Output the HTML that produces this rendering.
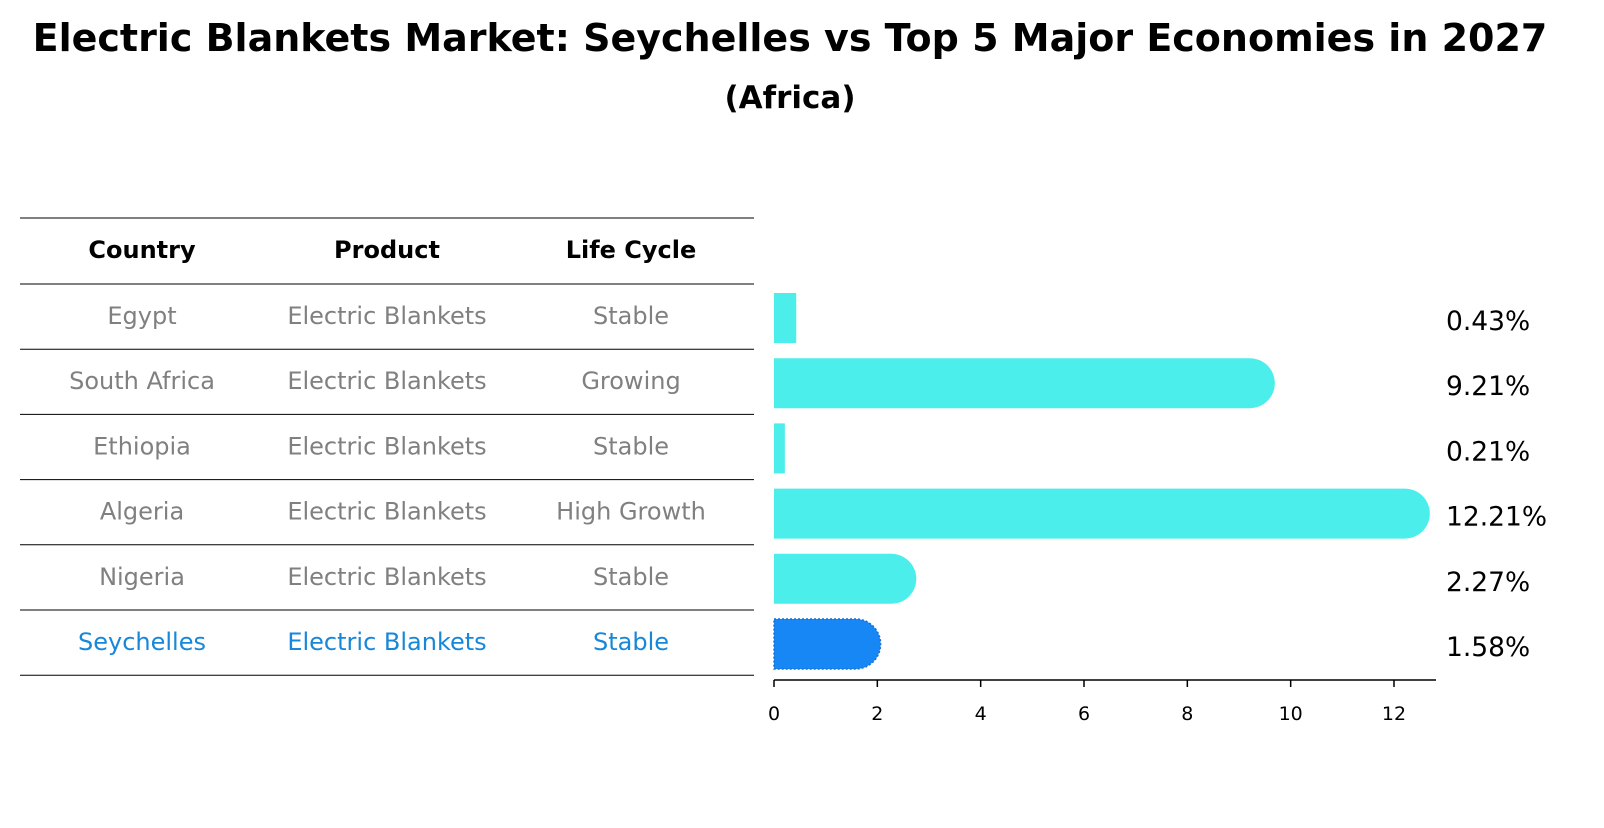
<!DOCTYPE html>
<html><head><meta charset="utf-8"><style>
body{margin:0;background:#fff;font-family:"Liberation Sans","DejaVu Sans",sans-serif;}
svg text{font-family:"DejaVu Sans","Liberation Sans",sans-serif;}
</style></head><body>
<svg id="chart" width="1604" height="823" viewBox="0 0 1604 823" xmlns="http://www.w3.org/2000/svg">
<text x="790" y="51" text-anchor="middle" font-size="38" font-weight="bold">Electric Blankets Market: Seychelles vs Top 5 Major Economies in 2027</text>
<text x="790" y="108" text-anchor="middle" font-size="31" font-weight="bold">(Africa)</text>
<g id="table"></g>
<g id="bars"></g>
</svg>
<script>
const countries=["Egypt","South Africa","Ethiopia","Algeria","Nigeria","Seychelles"];
const products=["Electric Blankets","Electric Blankets","Electric Blankets","Electric Blankets","Electric Blankets","Electric Blankets"];
const lifeCycles=["Stable","Growing","Stable","High Growth","Stable","Stable"];
const values=[0.43,9.21,0.21,12.21,2.27,1.58];
const tickLabels=[0,2,4,6,8,10,12];
const NS="http://www.w3.org/2000/svg";
function mk(tag,attrs,parent){const e=document.createElementNS(NS,tag);for(const k in attrs)e.setAttribute(k,attrs[k]);parent.appendChild(e);return e;}
const tbl=document.getElementById('table');
const bars=document.getElementById('bars');
const x0=774, unit=(1394-774)/12;
const xs=v=>x0+v*unit;
const rowTop=218, headH=66, rowH=65.2;
const colX=[142,387,631];
const hl=mk('line',{x1:20,x2:754,y1:rowTop,y2:rowTop,stroke:'#000','stroke-width':1},tbl);


["Country","Product","Life Cycle"].forEach((h,i)=>{
 const t=mk('text',{x:colX[i],y:rowTop+40,'text-anchor':'middle','font-size':24,'font-weight':'bold'},tbl);
 t.textContent=h;
 
 
});
countries.forEach((c,i)=>{
 const top=rowTop+headH+i*rowH;
 const ln=mk('line',{x1:20,x2:754,y1:top,y2:top,stroke:'#000','stroke-width':1},tbl);
 
 
 const col=c==="Seychelles"?'#1787d9':'#808080';
 [c,products[i],lifeCycles[i]].forEach((v,j)=>{
  const t=mk('text',{x:colX[j],y:top+40,'text-anchor':'middle','font-size':24,fill:col},tbl);
  t.textContent=v;
  
  
 });
 const cy=top+34, h=50, w=xs(values[i])-x0, r=h/2;
 const isS=c==="Seychelles";
 const fill=isS?'#1787f5':'#4beeea';
 let p;
 if(w>r){
  p=mk('path',{d:`M${x0},${cy-r} H${x0+w} A${r},${r} 0 0 1 ${x0+w},${cy+r} H${x0} Z`,fill:fill},bars);
 } else {
  p=mk('rect',{x:x0,y:cy-r,width:w,height:h,fill:fill},bars);
 }
 if(isS){p.setAttribute('stroke','#1a6fd0');p.setAttribute('stroke-dasharray','2,2');p.setAttribute('stroke-width','1.5');}
 
 
 const lab=mk('text',{x:1446,y:cy+12,'font-size':26.5},bars);
 lab.textContent=values[i].toFixed(2)+'%';
 
 
});
const bl=mk('line',{x1:20,x2:754,y1:rowTop+headH+countries.length*rowH,y2:rowTop+headH+countries.length*rowH,stroke:'#000','stroke-width':1},tbl);


const ax=mk('line',{x1:x0,x2:1436,y1:680,y2:680,stroke:'#000','stroke-width':1.5},bars);


tickLabels.forEach(v=>{
 const tk=mk('line',{x1:xs(v),x2:xs(v),y1:680,y2:687,stroke:'#000','stroke-width':1.5},bars);
 
 
 const t=mk('text',{x:xs(v),y:720,'text-anchor':'middle','font-size':19},bars);
 t.textContent=v;
 
 
});
</script>
</body></html>
